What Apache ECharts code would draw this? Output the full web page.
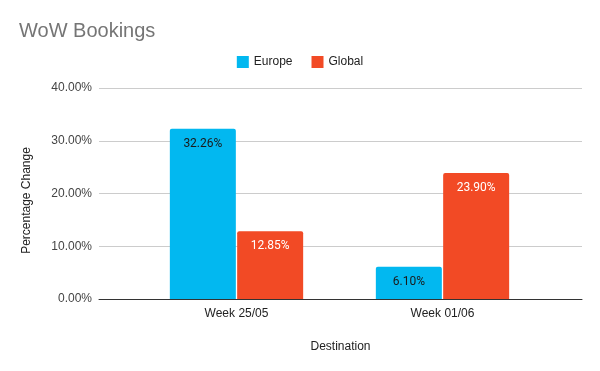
<!DOCTYPE html>
<html>
<head>
<meta charset="utf-8">
<script src="https://cdn.jsdelivr.net/npm/echarts@6/dist/echarts.min.js"></script>
<style>html,body{margin:0;padding:0;background:#fff}#c{width:600px;height:371px}</style>
</head>
<body>
<div id="c"></div>
<script>
const categories = ['Week 25/05', 'Week 01/06'];
const europe = [32.26, 6.10];
const globalVals = [12.85, 23.90];
const yTicks = { min: 0, max: 40, interval: 10 };

const FONT = '"Liberation Sans", Arial, sans-serif';
const chart = echarts.init(document.getElementById('c'));
chart.setOption({
  animation: false,
  backgroundColor: '#ffffff',
  textStyle: { fontFamily: FONT },
  title: {
    text: 'WoW Bookings', left: 14, top: 16,
    textStyle: { fontFamily: FONT, fontSize: 20, fontWeight: 'normal', color: '#757575' }
  },
  legend: {
    left: 'center', top: 51, icon: 'rect', itemWidth: 12, itemHeight: 12, itemGap: 19,
    textStyle: { fontFamily: FONT, fontSize: 12, color: '#222222' },
    data: ['Europe', 'Global']
  },
  grid: [
    { left: 99, right: 18, top: 88, bottom: 72 },
    { left: 133.5, right: 54.5, top: 88, bottom: 72 }
  ],
  xAxis: [
    { gridIndex: 0, type: 'category', data: [''],
      axisLine: { show: true, lineStyle: { color: '#333333', width: 1 } },
      axisTick: { show: false }, axisLabel: { show: false },
      name: 'Destination', nameLocation: 'middle', nameGap: 42,
      nameTextStyle: { fontFamily: FONT, fontSize: 12, color: '#222222' } },
    { gridIndex: 1, type: 'category', data: categories,
      axisLine: { show: false }, axisTick: { show: false },
      axisLabel: { fontFamily: FONT, fontSize: 12, color: '#222222', margin: 9 } }
  ],
  yAxis: [
    { gridIndex: 0, type: 'value', min: yTicks.min, max: yTicks.max, interval: yTicks.interval,
      axisLine: { show: false }, axisTick: { show: false },
      axisLabel: { fontFamily: FONT, fontSize: 12, color: '#444444', margin: 7,
        formatter: v => v.toFixed(2) + '%' },
      splitLine: { lineStyle: { color: '#cccccc', width: 1 } },
      name: 'Percentage Change', nameLocation: 'middle', nameGap: 66,
      nameTextStyle: { fontFamily: FONT, fontSize: 12, color: '#222222', padding: [0, 14, 0, 0] } },
    { gridIndex: 1, type: 'value', min: yTicks.min, max: yTicks.max, show: false }
  ],
  series: [
    { name: 'Europe', type: 'bar', xAxisIndex: 1, yAxisIndex: 1, data: europe,
      barWidth: 66, barGap: '2%',
      itemStyle: { color: '#02b8f0', borderRadius: [2, 2, 0, 0] },
      label: { show: true, position: 'insideTop', distance: 9,
        fontFamily: 'Roboto, sans-serif', fontSize: 12, color: '#1a1a1a',
        formatter: p => p.value.toFixed(2) + '%' } },
    { name: 'Global', type: 'bar', xAxisIndex: 1, yAxisIndex: 1, data: globalVals,
      barWidth: 66,
      itemStyle: { color: '#f24a25', borderRadius: [2, 2, 0, 0] },
      label: { show: true, position: 'insideTop', distance: 9,
        fontFamily: 'Roboto, sans-serif', fontSize: 12, color: '#ffffff',
        formatter: p => p.value.toFixed(2) + '%' } }
  ]
});
</script>
</body>
</html>
